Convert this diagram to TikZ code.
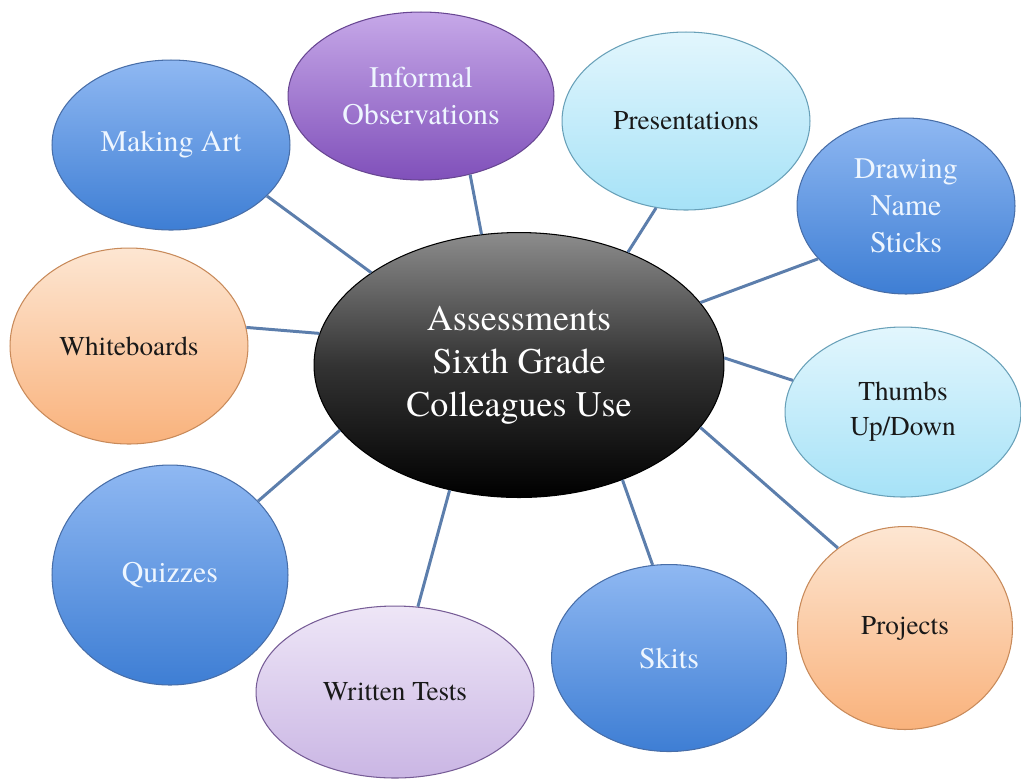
\documentclass[tikz,border=0pt]{standalone}
\usepackage{fontspec}
\setmainfont{TeX Gyre Termes}
\usetikzlibrary{shapes.geometric}
\definecolor{blueTop}{RGB}{143,184,242}
\definecolor{blueBot}{RGB}{62,126,212}
\definecolor{blueLine}{RGB}{72,110,168}
\definecolor{purpTop}{RGB}{198,168,232}
\definecolor{purpBot}{RGB}{128,80,186}
\definecolor{purpLine}{RGB}{104,70,146}
\definecolor{cyanTop}{RGB}{226,246,253}
\definecolor{cyanBot}{RGB}{166,226,247}
\definecolor{cyanLine}{RGB}{104,160,184}
\definecolor{orTop}{RGB}{253,230,210}
\definecolor{orBot}{RGB}{249,178,124}
\definecolor{orLine}{RGB}{200,138,90}
\definecolor{lilTop}{RGB}{238,230,247}
\definecolor{lilBot}{RGB}{202,182,228}
\definecolor{lilLine}{RGB}{118,92,150}
\definecolor{linkCol}{RGB}{92,126,172}
\definecolor{paleText}{RGB}{238,246,255}
\tikzset{
	bubble/.style={ellipse,draw,line width=.6pt,align=center,inner sep=1pt},
	blueB/.style={bubble,top color=blueTop,bottom color=blueBot,draw=blueLine,text=paleText,font=\fontsize{17}{21}\selectfont},
	purpB/.style={bubble,top color=purpTop,bottom color=purpBot,draw=purpLine,text=paleText,font=\fontsize{17}{21}\selectfont},
	cyanB/.style={bubble,top color=cyanTop,bottom color=cyanBot,draw=cyanLine,text=black!90,font=\fontsize{15.5}{20}\selectfont},
	orB/.style={bubble,top color=orTop,bottom color=orBot,draw=orLine,text=black!90,font=\fontsize{15.5}{20}\selectfont},
	lilB/.style={bubble,top color=lilTop,bottom color=lilBot,draw=lilLine,text=black!90,font=\fontsize{15.5}{20}\selectfont},
	link/.style={draw=linkCol,line width=1.7pt}
}
\begin{document}
\begin{tikzpicture}[x=0.02cm,y=-0.02cm]
	\useasboundingbox (0,0) rectangle (1021,779);
	% centre
	\node[bubble,draw=black,top color=black!45,bottom color=black,middle color=black!80,text=white,
		minimum width=8.2cm,minimum height=5.3cm,font=\fontsize{20.5}{24.5}\selectfont] (C) at (519,365)
		{Assessments\\Sixth Grade\\Colleagues Use};
	% satellites
	\node[blueB,minimum width=4.76cm,minimum height=3.4cm] (art) at (171,145) {Making Art};
	\node[purpB,minimum width=5.32cm,minimum height=3.36cm] (obs) at (421,96) {Informal\\Observations};
	\node[cyanB,minimum width=4.96cm,minimum height=3.56cm] (pres) at (686,121) {Presentations};
	\node[blueB,minimum width=4.36cm,minimum height=3.52cm] (sticks) at (906,206) {Drawing\\Name\\Sticks};
	\node[orB,minimum width=4.76cm,minimum height=3.92cm] (wb) at (129,346) {Whiteboards};
	\node[cyanB,minimum width=4.72cm,minimum height=3.4cm] (thumbs) at (903,412) {Thumbs\\Up/Down};
	\node[blueB,minimum width=4.72cm,minimum height=4.4cm] (quiz) at (170,575) {Quizzes};
	\node[lilB,minimum width=5.56cm,minimum height=3.44cm] (tests) at (395,692) {Written Tests};
	\node[blueB,minimum width=4.7cm,minimum height=3.74cm] (skits) at (669,658) {Skits};
	\node[orB,minimum width=4.3cm,minimum height=4.06cm] (proj) at (905,628) {Projects};
	% links
	\draw[link] (art.332) -- (C.148);
	\draw[link] (obs.302) -- (C.106);
	\draw[link] (pres.251) -- (C.46);
	\draw[link] (sticks.211) -- (C.19);
	\draw[link] (wb.9) -- (C.171);
	\draw[link] (thumbs.164) -- (C.2);
	\draw[link] (quiz.40) -- (C.200);
	\draw[link] (tests.75) -- (C.241);
	\draw[link] (skits.100) -- (C.312);
	\draw[link] (proj.130) -- (C.341);
\end{tikzpicture}
\end{document}
